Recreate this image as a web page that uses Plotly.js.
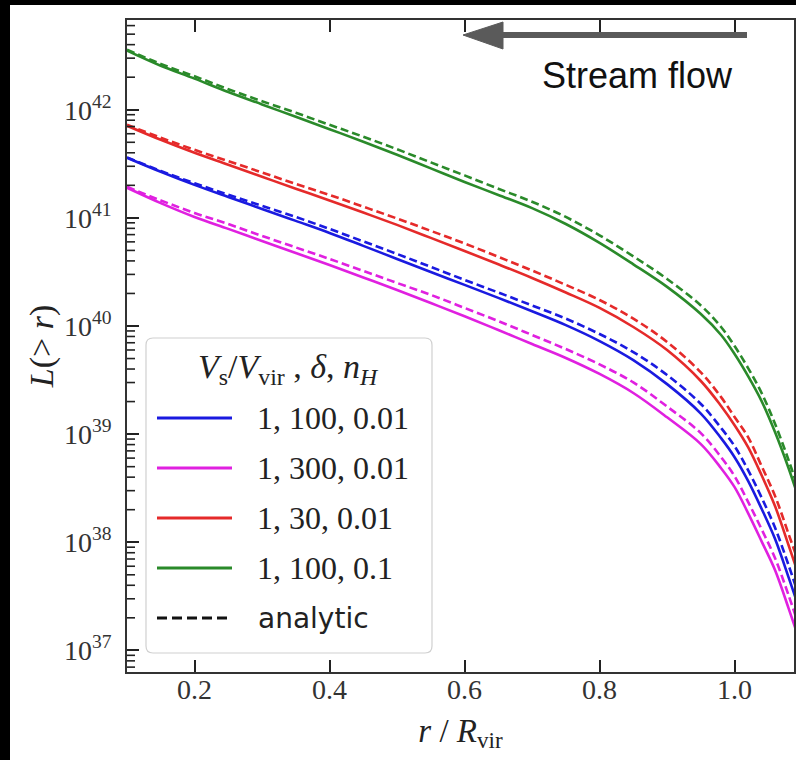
<!DOCTYPE html>
<html><head><meta charset="utf-8">
<script src="https://cdn.plot.ly/plotly-3.0.1.min.js"></script>
<style>
html,body{margin:0;padding:0;background:#000}
body{padding:5px 0 0 10px;width:786px;height:755px}
#chart{width:786px;height:755px;background:#fff}
</style>
</head><body><div id="chart"></div>
<script>
// r / R_vir sample positions
const r = [0.10,0.15,0.20,0.25,0.30,0.35,0.40,0.45,0.50,0.55,0.60,0.65,0.70,0.75,0.80,0.85,0.90,0.95,0.98,1.00,1.02,1.04,1.06,1.08,1.09];

// 1, 100, 0.01 (blue)
const blueSim = [3.60e41,2.67e41,2.02e41,1.56e41,1.21e41,9.38e40,7.26e40,5.51e40,4.17e40,3.16e40,2.40e40,1.82e40,1.37e40,1.02e40,7.26e39,4.84e39,2.90e39,1.55e39,9.18e38,6.12e38,3.70e38,2.04e38,1.07e38,4.74e37,3.10e37];
const blueAna = [3.62e41,2.72e41,2.09e41,1.64e41,1.29e41,1.02e41,7.91e40,6.06e40,4.64e40,3.52e40,2.67e40,2.04e40,1.55e40,1.17e40,8.43e39,5.74e39,3.52e39,1.90e39,1.14e39,7.74e38,4.64e38,2.59e38,1.36e38,6.12e37,4.00e37];
// 1, 300, 0.01 (magenta)
const magSim = [1.90e41,1.37e41,1.02e41,7.91e40,6.12e40,4.74e40,3.66e40,2.81e40,2.15e40,1.63e40,1.23e40,9.18e39,6.81e39,5.06e39,3.60e39,2.40e39,1.43e39,8.09e38,4.84e38,3.23e38,1.86e38,1.02e38,5.51e37,2.45e37,1.60e37];
const magAna = [1.94e41,1.45e41,1.11e41,8.77e40,6.81e40,5.33e40,4.17e40,3.23e40,2.50e40,1.94e40,1.47e40,1.11e40,8.26e39,6.12e39,4.41e39,3.01e39,1.80e39,1.02e39,6.12e38,4.08e38,2.36e38,1.32e38,7.11e37,3.23e37,2.11e37];
// 1, 30, 0.01 (red)
const redSim = [7.11e41,5.27e41,4.00e41,3.10e41,2.40e41,1.86e41,1.45e41,1.12e41,8.61e40,6.53e40,4.94e40,3.72e40,2.78e40,2.04e40,1.47e40,9.79e39,5.99e39,3.10e39,1.82e39,1.21e39,7.58e38,4.17e38,2.15e38,9.38e37,6.12e37];
const redAna = [7.26e41,5.51e41,4.26e41,3.35e41,2.63e41,2.06e41,1.63e41,1.27e41,9.87e40,7.58e40,5.80e40,4.36e40,3.26e40,2.40e40,1.74e40,1.17e40,7.11e39,3.72e39,2.20e39,1.44e39,9.38e38,5.06e38,2.67e38,1.19e38,7.91e37];
// 1, 100, 0.1 (green)
const greenSim = [3.52e42,2.55e42,1.94e42,1.46e42,1.12e42,8.61e41,6.61e41,5.06e41,3.83e41,2.87e41,2.15e41,1.63e41,1.23e41,8.77e40,5.87e40,3.72e40,2.30e40,1.29e40,8.26e39,5.51e39,3.44e39,2.02e39,1.04e39,4.84e38,3.16e38];
const greenAna = [3.60e42,2.65e42,2.04e42,1.55e42,1.20e42,9.38e41,7.26e41,5.63e41,4.31e41,3.26e41,2.47e41,1.86e41,1.41e41,1.02e41,6.89e40,4.41e40,2.72e40,1.55e40,9.79e39,6.53e39,4.08e39,2.40e39,1.24e39,5.74e38,3.75e38];

const seriesNames = ['1, 100, 0.01','1, 300, 0.01','1, 30, 0.01','1, 100, 0.1'];
const seriesColors = ['#1a1ae0','#e020e0','#e52a2a','#2a8a2a'];
const simData = [blueSim, magSim, redSim, greenSim];
const anaData = [blueAna, magAna, redAna, greenAna];
const analyticLabel = 'analytic';

const xTickVals = [0.2,0.4,0.6,0.8,1.0];
const xTickText = ['0.2','0.4','0.6','0.8','1.0'];
const yTickVals = [1e37,1e38,1e39,1e40,1e41,1e42];
const yTickText = ['10<sup>37</sup>','10<sup>38</sup>','10<sup>39</sup>','10<sup>40</sup>','10<sup>41</sup>','10<sup>42</sup>'];

const X_RANGE = [0.1, 1.088];
const Y_RANGE = [36.8, 42.83];

const traces = [];
for (let i = 0; i < 4; i++) {
  traces.push({x: r, y: simData[i], mode: 'lines', name: seriesNames[i],
    line: {color: seriesColors[i], width: 2.6, shape: 'spline', smoothing: 1.0}, showlegend: false, hoverinfo: 'skip'});
  traces.push({x: r, y: anaData[i], mode: 'lines', name: seriesNames[i] + ' ' + analyticLabel,
    line: {color: seriesColors[i], width: 2.6, dash: '8px,4px', shape: 'spline', smoothing: 1.0}, showlegend: false, hoverinfo: 'skip'});
}

// plot area in page px: x 127..794, y 20..672
const PX0 = 127, PX1 = 794, PY0 = 20, PY1 = 672;
const px = v => (v - PX0) / (PX1 - PX0);
const py = v => (PY1 - v) / (PY1 - PY0);

const shapes = [];
const annotations = [];

// minor log ticks on the left spine (2..9 per decade)
const minorLen = 8 / (PX1 - PX0);
for (let e = 36; e <= 42; e++) {
  for (let m = 2; m <= 9; m++) {
    const lv = Math.log10(m) + e;
    if (lv <= Y_RANGE[0] || lv >= Y_RANGE[1]) continue;
    const yp = (lv - Y_RANGE[0]) / (Y_RANGE[1] - Y_RANGE[0]);
    shapes.push({type: 'line', xref: 'paper', yref: 'paper', x0: 0, x1: minorLen, y0: yp, y1: yp, line: {color: '#222', width: 1.6}});
  }
}

// stream-flow arrow
shapes.push({type: 'line', xref: 'paper', yref: 'paper', x0: px(500), x1: px(747), y0: py(35), y1: py(35),
  line: {color: '#5a5a5a', width: 6}});
shapes.push({type: 'path', xref: 'paper', yref: 'paper',
  path: `M${px(463)},${py(35)} L${px(503)},${py(22)} L${px(503)},${py(49)} Z`,
  fillcolor: '#5a5a5a', line: {color: '#5a5a5a', width: 1}});
annotations.push({xref: 'paper', yref: 'paper', x: px(637), y: py(76), text: 'Stream flow', showarrow: false,
  xanchor: 'center', yanchor: 'middle', font: {family: 'Liberation Sans, Arial, sans-serif', size: 36, color: '#111'}});

// legend frame (rounded)
const L0 = 146, L1 = 432, T0 = 338, T1 = 653, rr = 7;
shapes.push({type: 'path', xref: 'paper', yref: 'paper',
  path: `M${px(L0+rr)},${py(T0)} L${px(L1-rr)},${py(T0)} Q${px(L1)},${py(T0)} ${px(L1)},${py(T0+rr)} ` +
        `L${px(L1)},${py(T1-rr)} Q${px(L1)},${py(T1)} ${px(L1-rr)},${py(T1)} L${px(L0+rr)},${py(T1)} ` +
        `Q${px(L0)},${py(T1)} ${px(L0)},${py(T1-rr)} L${px(L0)},${py(T0+rr)} Q${px(L0)},${py(T0)} ${px(L0+rr)},${py(T0)} Z`,
  fillcolor: 'rgba(255,255,255,0.85)', line: {color: '#d0d0d0', width: 1.2}});
annotations.push({xref: 'paper', yref: 'paper', x: px(288), y: py(369), showarrow: false, xanchor: 'center', yanchor: 'middle',
  text: '<i>V</i><sub>s</sub>/<i>V</i><sub>vir</sub> , <i>δ</i>, <i>n</i><sub><i>H</i></sub>',
  font: {family: 'Liberation Serif, serif', size: 34, color: '#222'}});
const rowY = [418, 468, 518, 568, 618];
for (let i = 0; i < 4; i++) {
  shapes.push({type: 'line', xref: 'paper', yref: 'paper', x0: px(157), x1: px(232), y0: py(rowY[i]), y1: py(rowY[i]),
    line: {color: seriesColors[i], width: 3}});
  annotations.push({xref: 'paper', yref: 'paper', x: px(255), y: py(rowY[i]), showarrow: false, xanchor: 'left', yanchor: 'middle',
    text: seriesNames[i], font: {family: 'Liberation Serif, serif', size: 32, color: '#222'}});
}
shapes.push({type: 'line', xref: 'paper', yref: 'paper', x0: px(157), x1: px(232), y0: py(rowY[4]), y1: py(rowY[4]),
  line: {color: '#111', width: 3, dash: '10px,5px'}});
annotations.push({xref: 'paper', yref: 'paper', x: px(256), y: py(rowY[4]), showarrow: false, xanchor: 'left', yanchor: 'middle',
  text: analyticLabel, font: {family: 'DejaVu Sans, sans-serif', size: 28, color: '#222'}});

const tickFont = {family: 'Liberation Serif, serif', size: 28, color: '#333'};

const layout = {
  width: 786, height: 755,
  margin: {l: PX0 - 10, r: 796 - PX1, t: PY0 - 5, b: 760 - PY1, pad: 0},
  paper_bgcolor: '#ffffff', plot_bgcolor: '#ffffff',
  showlegend: false,
  xaxis: {
    range: X_RANGE, showgrid: false, zeroline: false,
    showline: true, linecolor: '#333', linewidth: 1.6, mirror: 'allticks',
    ticks: 'inside', ticklen: 12, tickwidth: 1.8, tickcolor: '#222',
    tickmode: 'array', tickvals: xTickVals, ticktext: xTickText, tickfont: tickFont,
    ticklabelstandoff: -8, automargin: false,
    title: {text: '<i>r</i> / <i>R</i><sub>vir</sub>', font: {family: 'Liberation Serif, serif', size: 33, color: '#222'}, standoff: 14}
  },
  yaxis: {
    type: 'log', range: Y_RANGE, showgrid: false, zeroline: false,
    showline: true, linecolor: '#333', linewidth: 1.6, mirror: true,
    ticks: 'inside', ticklen: 12, tickwidth: 1.8, tickcolor: '#222',
    tickmode: 'array', tickvals: yTickVals, ticktext: yTickText, tickfont: tickFont,
    ticklabelstandoff: 8, automargin: false,
    title: {text: '<i>L</i>(&gt; <i>r</i>)', font: {family: 'Liberation Serif, serif', size: 34, color: '#222'}, standoff: 0}
  },
  shapes: shapes,
  annotations: annotations
};

Plotly.newPlot('chart', traces, layout, {displayModeBar: false});
</script></body></html>
